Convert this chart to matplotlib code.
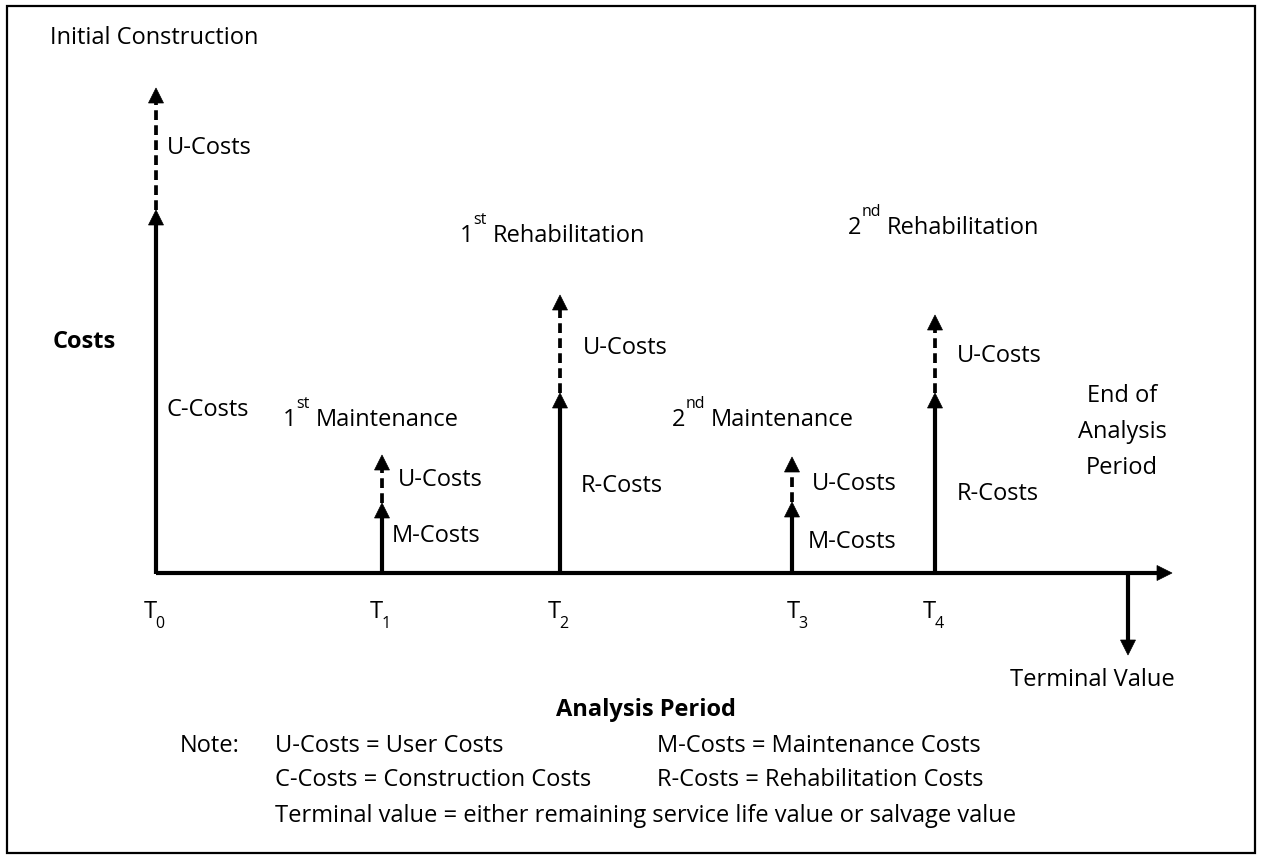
import matplotlib
matplotlib.use("Agg")
import matplotlib.pyplot as plt
from matplotlib.patches import Polygon, Rectangle

plt.rcParams['font.family'] = ['Open Sans', 'DejaVu Sans']

# ---- data (diagram units = pixels of the original) ----
event_names = ['T', 'T', 'T', 'T', 'T']
event_index = ['0', '1', '2', '3', '4']
event_x = [156, 382, 560, 792, 935]
agency_height = [363, 70, 180, 71, 180]      # C / M / R costs (solid arrow)
user_height = [485, 118, 278, 116, 258]      # top of user-cost (dashed) arrow
agency_labels = ['C-Costs', 'M-Costs', 'R-Costs', 'M-Costs', 'R-Costs']
user_labels = ['U-Costs'] * 5
title_num = ['', '1', '1', '2', '2']
title_ord = ['', 'st', 'st', 'nd', 'nd']
title_word = ['Initial Construction', 'Maintenance', 'Rehabilitation',
              'Maintenance', 'Rehabilitation']
end_label = ['End of', 'Analysis', 'Period']
terminal_x = 1128
terminal_depth = 82
axis_end_x = 1172
base_y = 573

note_left = ['U-Costs = User Costs', 'C-Costs = Construction Costs',
             'Terminal value = either remaining service life value or salvage value']
note_right = ['M-Costs = Maintenance Costs', 'R-Costs = Rehabilitation Costs']

# ---- layout ----
title_pos = [(50, 35), (283, 417), (460, 233), (672, 417), (848, 225)]
agency_lab_pos = [(167, 408), (392, 533), (581, 483), (808, 540), (957, 492)]
user_lab_pos = [(167, 145), (398, 478), (583, 345), (812, 482), (957, 354)]
tlabel_left = [144, 370, 548, 787, 923]
end_y = [393, 430, 465]

W, H = 1263, 860
fig = plt.figure(figsize=(W / 100, H / 100), dpi=100)
ax = fig.add_axes([0, 0, 1, 1])
ax.set_xlim(0, W)
ax.set_ylim(H, 0)
ax.axis('off')
renderer = fig.canvas.get_renderer()

FS = 17
FS_SMALL = 11.5
CAP = 8.5
LW = 3.0
HL, HW = 15, 15

def head(x, ytip, direction=-1):
    yb = ytip - direction * HL
    ax.add_patch(Polygon([(x, ytip), (x - HW / 2, yb), (x + HW / 2, yb)],
                         closed=True, facecolor='black', edgecolor='black',
                         lw=0.5, zorder=4))

def text(x, yc, s, fs=FS, **kw):
    kw.setdefault('ha', 'left')
    return ax.text(x, yc + CAP, s, fontsize=fs, va='baseline', color='black', **kw)

def right_edge(t):
    bb = t.get_window_extent(renderer=renderer)
    return bb.x1  # pixels == data x (1:1 mapping)

def script_text(x, yc, base, small, rest='', shift=-18, gap=0.0, rest_gap=6):
    t = text(x, yc, base)
    xe = right_edge(t) + gap
    s = ax.text(xe, yc + CAP + shift, small, fontsize=FS_SMALL, va='baseline',
                ha='left', color='black')
    if rest:
        text(right_edge(s) + rest_gap, yc, rest)

# border
ax.add_patch(Rectangle((7, 6), W - 15, H - 13, fill=False, edgecolor='black', lw=1.6))

# horizontal axis
ax.plot([event_x[0], axis_end_x - HL + 2], [base_y, base_y], color='black', lw=LW,
        solid_capstyle='butt', zorder=3)
ax.add_patch(Polygon([(axis_end_x, base_y), (axis_end_x - HL, base_y - HW / 2),
                      (axis_end_x - HL, base_y + HW / 2)], closed=True,
                     facecolor='black', edgecolor='black', lw=0.5, zorder=4))

# terminal value arrow
tip = base_y + terminal_depth
ax.plot([terminal_x, terminal_x], [base_y, tip - HL + 2], color='black', lw=LW,
        solid_capstyle='butt', zorder=3)
head(terminal_x, tip, direction=+1)

# event arrows
for i, x in enumerate(event_x):
    ya = base_y - agency_height[i]
    yu = base_y - user_height[i]
    ax.plot([x, x], [base_y + 1, ya + HL - 2], color='black', lw=LW,
            solid_capstyle='butt', zorder=3)
    head(x, ya)
    ax.plot([x, x], [ya, yu + HL - 1], color='black', lw=LW * 0.9,
            linestyle=(0, (2.6, 1.4)), dash_capstyle='butt', zorder=3)
    head(x, yu)
    text(*agency_lab_pos[i], agency_labels[i])
    text(*user_lab_pos[i], user_labels[i])
    if title_num[i]:
        script_text(*title_pos[i], title_num[i], title_ord[i], title_word[i])
    else:
        text(*title_pos[i], title_word[i])
    script_text(tlabel_left[i], 609, event_names[i], event_index[i], shift=11, gap=-1.5)

# other labels
text(53, 340, 'Costs', fontweight='bold')
for s, y in zip(end_label, end_y):
    text(1122, y, s, ha='center')
text(1092, 678, 'Terminal Value', ha='center')
text(646, 707, 'Analysis Period', ha='center', fontweight='bold')

text(180, 743, 'Note:')
for k, s in enumerate(note_left):
    text(275, 743 + 35 * k, s)
for k, s in enumerate(note_right):
    text(657, 743 + 35 * k, s)

fig.savefig('out.png', dpi=100)
